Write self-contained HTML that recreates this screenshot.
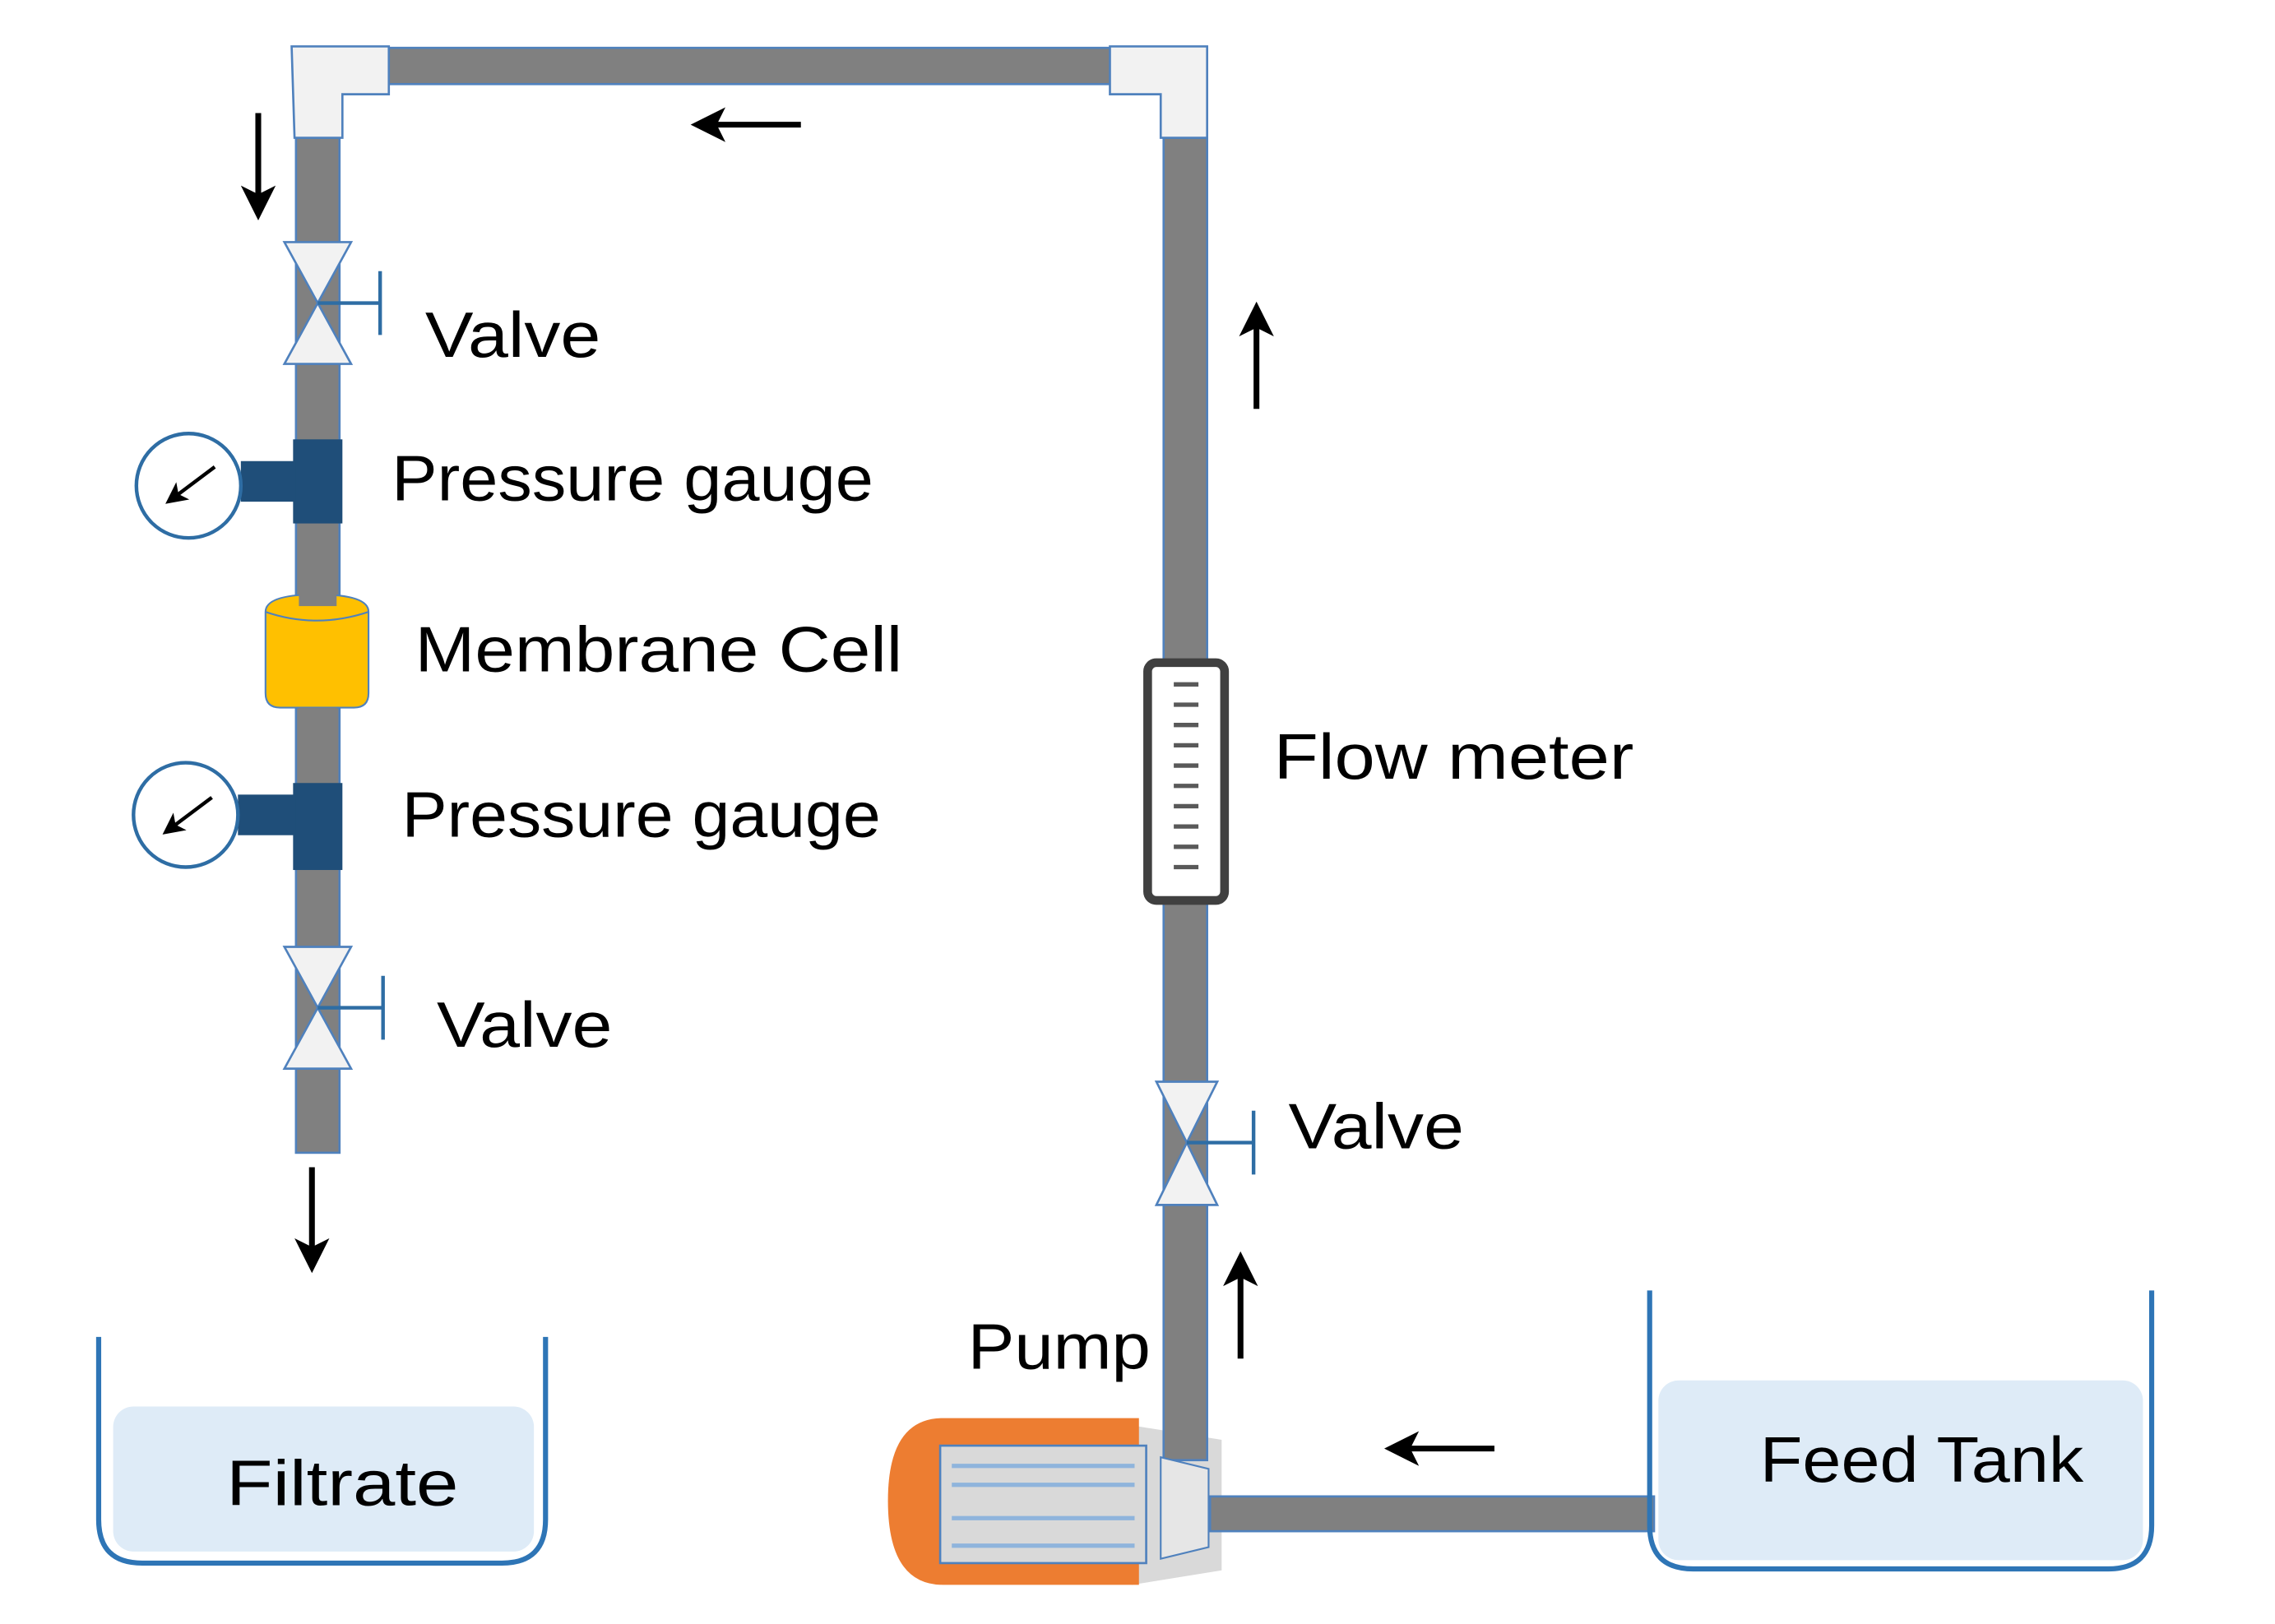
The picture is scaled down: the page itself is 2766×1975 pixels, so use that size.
<!DOCTYPE html>
<html><head><meta charset="utf-8">
<style>html,body{margin:0;padding:0;background:#fff;}svg{display:block;}</style>
</head><body>
<svg width="2766" height="1975" viewBox="0 0 1568 1120" preserveAspectRatio="none" xmlns="http://www.w3.org/2000/svg" font-family="'Liberation Sans', sans-serif">
<defs>
<marker id="ah" markerWidth="6" markerHeight="6" refX="3" refY="3" orient="auto" markerUnits="strokeWidth">
<path d="M0,0 L6,3 L0,6 L1.5,3 z" fill="#000"/>
</marker>
</defs>
<rect width="1568" height="1120" fill="#fff"/>
<!-- pump body -->
<polygon points="780,983 842,993 842,1083 780,1093" fill="#d9d9d9"/>
<path d="M650,978 L785,978 L785,1093 L650,1093 Q612,1093 612,1035 Q612,978 650,978 Z" fill="#ed7d31"/>
<rect x="648" y="997" width="142" height="81" fill="#d9d9d9" stroke="#4f81bd" stroke-width="1.5"/>
<g stroke="#8fb4dc" stroke-width="3">
<line x1="656" y1="1011" x2="782" y2="1011"/><line x1="656" y1="1024" x2="782" y2="1024"/>
<line x1="656" y1="1047" x2="782" y2="1047"/><line x1="656" y1="1066" x2="782" y2="1066"/>
</g>
<!-- pipes -->
<g fill="#808080" stroke="#4f81bd" stroke-width="1.5">
<rect x="265" y="33" width="502" height="25"/>
<rect x="204" y="95" width="30" height="700"/>
<rect x="802" y="95" width="30" height="912"/>
<rect x="834" y="1032" width="306" height="24"/>
</g>
<polygon points="800,1005 833,1013 833,1067 800,1075" fill="#e6e6e6" stroke="#4f81bd" stroke-width="1.2"/>
<!-- elbows -->
<g fill="#f2f2f2" stroke="#4f81bd" stroke-width="1.5">
<polygon points="201,32 268,32 268,65 236,65 236,95 203,95"/>
<polygon points="765,32 832,32 832,95 800,95 800,65 765,65"/>
</g>
<!-- arrows -->
<g stroke="#000" stroke-width="4" marker-end="url(#ah)">
<line x1="178" y1="78" x2="178" y2="140"/>
<line x1="552" y1="86" x2="488" y2="86"/>
<line x1="866" y1="282" x2="866" y2="220"/>
<line x1="215" y1="805" x2="215" y2="866"/>
<line x1="855" y1="937" x2="855" y2="875"/>
<line x1="1030" y1="999" x2="966" y2="999"/>
</g>
<!-- valves -->
<g fill="#f2f2f2" stroke="#4f81bd" stroke-width="1.5">
<polygon points="196,167 242,167 219,209"/>
<polygon points="196,251 242,251 219,209"/>
<polygon points="196,653 242,653 219,695"/>
<polygon points="196,737 242,737 219,695"/>
<polygon points="797,746 839,746 818,788"/>
<polygon points="797,831 839,831 818,788"/>
</g>
<g stroke="#2e6da4" stroke-width="2.5">
<line x1="219" y1="209" x2="262" y2="209"/><line x1="262" y1="187" x2="262" y2="231"/>
<line x1="219" y1="695" x2="264" y2="695"/><line x1="264" y1="673" x2="264" y2="717"/>
<line x1="818" y1="788" x2="864" y2="788"/><line x1="864" y1="766" x2="864" y2="810"/>
</g>
<!-- gauges -->
<g fill="#1f4e79">
<rect x="202" y="303" width="34" height="58"/><rect x="166" y="318" width="38" height="28"/>
<rect x="202" y="540" width="34" height="60"/><rect x="164" y="548" width="40" height="28"/>
</g>
<g fill="#fff" stroke="#2e6da4" stroke-width="2.5">
<circle cx="130" cy="335" r="36"/>
<circle cx="128" cy="562" r="36"/>
</g>
<g stroke="#000" stroke-width="2.5" marker-end="url(#ah)">
<line x1="148" y1="322" x2="120" y2="343"/>
<line x1="146" y1="550" x2="118" y2="571"/>
</g>
<!-- membrane cell -->
<path d="M183,422 Q183,410 218,410 Q254,410 254,422 L254,478 Q254,488 244,488 L193,488 Q183,488 183,478 Z" fill="#ffc000" stroke="#4f81bd" stroke-width="1.2"/>
<path d="M183,422 Q218,434 254,422" fill="none" stroke="#4f81bd" stroke-width="1.2"/>
<rect x="206" y="398" width="26" height="20" fill="#808080"/>
<rect x="206" y="488" width="26" height="6" fill="#808080"/>
<!-- flow meter -->
<rect x="791" y="457" width="53" height="164" rx="6" fill="#fff" stroke="#404040" stroke-width="6"/>
<g stroke="#595959" stroke-width="3">
<line x1="809" y1="472" x2="826" y2="472"/><line x1="809" y1="486" x2="826" y2="486"/>
<line x1="809" y1="500" x2="826" y2="500"/><line x1="809" y1="514" x2="826" y2="514"/>
<line x1="809" y1="528" x2="826" y2="528"/><line x1="809" y1="542" x2="826" y2="542"/>
<line x1="809" y1="556" x2="826" y2="556"/><line x1="809" y1="570" x2="826" y2="570"/>
<line x1="809" y1="584" x2="826" y2="584"/><line x1="809" y1="598" x2="826" y2="598"/>
</g>
<!-- tanks -->
<rect x="78" y="970" width="290" height="100" rx="14" fill="#deebf7"/>
<path d="M68,922 L68,1048 Q68,1078 98,1078 L346,1078 Q376,1078 376,1048 L376,922" fill="none" stroke="#2e75b6" stroke-width="3.5"/>
<rect x="1143" y="952" width="334" height="124" rx="14" fill="#deebf7"/>
<path d="M1137,890 L1137,1052 Q1137,1082 1167,1082 L1453,1082 Q1483,1082 1483,1052 L1483,890" fill="none" stroke="#2e75b6" stroke-width="3.5"/>
<!-- labels -->
<g fill="#000" font-size="44">
<text x="293" y="246" textLength="121" lengthAdjust="spacingAndGlyphs">Valve</text>
<text x="270" y="345" textLength="332" lengthAdjust="spacingAndGlyphs">Pressure gauge</text>
<text x="286" y="463" textLength="336" lengthAdjust="spacingAndGlyphs">Membrane Cell</text>
<text x="277" y="577" textLength="330" lengthAdjust="spacingAndGlyphs">Pressure gauge</text>
<text x="301" y="722" textLength="121" lengthAdjust="spacingAndGlyphs">Valve</text>
<text x="878" y="537" textLength="248" lengthAdjust="spacingAndGlyphs">Flow meter</text>
<text x="888" y="792" textLength="121" lengthAdjust="spacingAndGlyphs">Valve</text>
<text x="667" y="944" textLength="126" lengthAdjust="spacingAndGlyphs">Pump</text>
<text x="156" y="1038" textLength="160" lengthAdjust="spacingAndGlyphs">Filtrate</text>
<text x="1213" y="1022" textLength="223" lengthAdjust="spacingAndGlyphs">Feed Tank</text>
</g>
</svg>
</body></html>
